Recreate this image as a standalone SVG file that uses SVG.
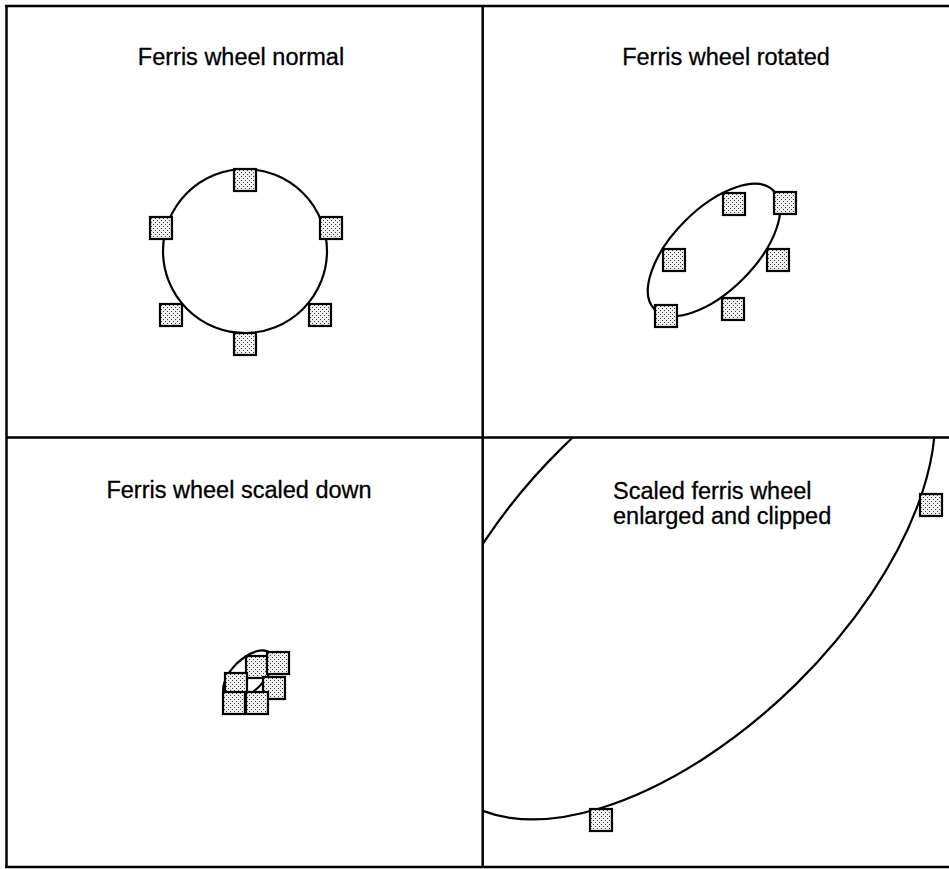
<svg xmlns="http://www.w3.org/2000/svg" width="949" height="869" viewBox="0 0 949 869">
<style>
 .frame{stroke:#000;stroke-width:2.5;fill:none}
 .wheel{fill:none;stroke:#000;stroke-width:2.2}
 .seat{fill:url(#dots);stroke:#000;stroke-width:2.2}
 .title{font-family:"Liberation Sans",Arial,sans-serif;font-size:23.5px;fill:#000;stroke:#000;stroke-width:0.3}
</style>
<defs>
 <pattern id="dots" width="4" height="4" patternUnits="userSpaceOnUse">
  <rect width="4" height="4" fill="#eeeeee"/>
  <rect x="0" y="0" width="1" height="1" fill="#444"/>
  <rect x="2" y="2" width="1" height="1" fill="#444"/>
 </pattern>
 <rect id="seat" x="-11" y="-11" width="22" height="22" class="seat"/>
 <clipPath id="clip4"><rect x="484" y="438.5" width="465" height="427.5"/></clipPath>
</defs>
<rect width="949" height="869" fill="#fff"/>
<g id="frame">
 <line class="frame" x1="5" y1="6" x2="949" y2="6"/>
 <line class="frame" x1="6.5" y1="5" x2="6.5" y2="868"/>
 <line class="frame" x1="5" y1="867" x2="949" y2="867"/>
 <line class="frame" x1="482.7" y1="6" x2="482.7" y2="867"/>
 <line class="frame" x1="6" y1="437.5" x2="949" y2="437.5"/>
</g>
<g id="panel-normal">
 <text class="title" x="241" y="65" text-anchor="middle">Ferris wheel normal</text>
 <circle class="wheel" cx="245" cy="251" r="82"/>
 <use href="#seat" x="245" y="180"/>
 <use href="#seat" x="161" y="228"/>
 <use href="#seat" x="331" y="228"/>
 <use href="#seat" x="171" y="315"/>
 <use href="#seat" x="320" y="315"/>
 <use href="#seat" x="245" y="344"/>
</g>
<g id="panel-rotated">
 <text class="title" x="726" y="65" text-anchor="middle">Ferris wheel rotated</text>
 <ellipse class="wheel" cx="714" cy="250" rx="84" ry="41" transform="rotate(-45 714 250)"/>
 <use href="#seat" x="734" y="204"/>
 <use href="#seat" x="785" y="203"/>
 <use href="#seat" x="674" y="260"/>
 <use href="#seat" x="778" y="260"/>
 <use href="#seat" x="666" y="316"/>
 <use href="#seat" x="733" y="309"/>
</g>
<g id="panel-scaled">
 <text class="title" x="239" y="498" text-anchor="middle">Ferris wheel scaled down</text>
 <ellipse class="wheel" cx="248" cy="675" rx="31" ry="16" transform="rotate(-44.5 248 675)"/>
 <use href="#seat" x="257" y="667"/>
 <use href="#seat" x="278" y="663"/>
 <use href="#seat" x="236" y="684"/>
 <use href="#seat" x="274" y="688"/>
 <use href="#seat" x="234" y="703"/>
 <use href="#seat" x="257" y="703"/>
</g>
<g id="panel-clipped">
 <text class="title" x="613" y="499">Scaled ferris wheel</text>
 <text class="title" x="613" y="524">enlarged and clipped</text>
 <g clip-path="url(#clip4)">
  <ellipse class="wheel" cx="679" cy="566" rx="319.5" ry="166.3" transform="rotate(-44.5 679 566)"/>
  <use href="#seat" x="931" y="505"/>
  <use href="#seat" x="601" y="820"/>
 </g>
</g>
</svg>
